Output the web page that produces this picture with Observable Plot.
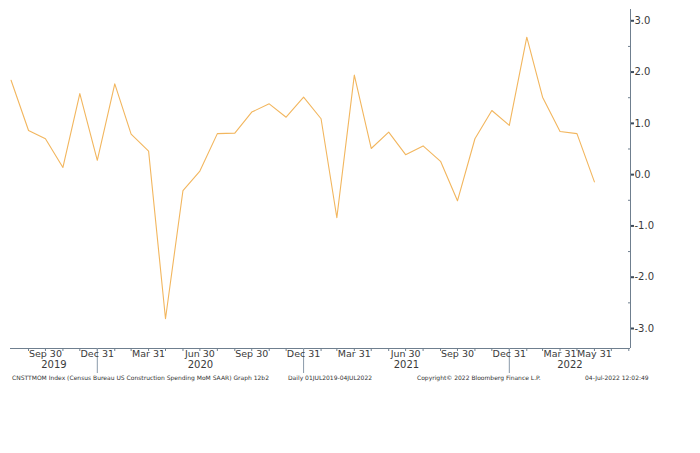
<!DOCTYPE html>
<html><head><meta charset="utf-8">
<script src="https://cdn.jsdelivr.net/npm/d3@7"></script>
<script src="https://cdn.jsdelivr.net/npm/@observablehq/plot@0.6"></script>
<style>
body{margin:0;background:#fff;}
#cap{position:relative;height:78px;font-family:"DejaVu Sans",sans-serif;font-size:6px;line-height:6px;color:#333;}
#cap span{position:absolute;top:0px;white-space:nowrap;}
</style>
</head><body>
<div id="chart"></div>
<div id="cap"></div>
<script>
// ---- data ----
const dates = ["2019-07-31","2019-08-31","2019-09-30","2019-10-31","2019-11-30","2019-12-31",
  "2020-01-31","2020-02-29","2020-03-31","2020-04-30","2020-05-31","2020-06-30",
  "2020-07-31","2020-08-31","2020-09-30","2020-10-31","2020-11-30","2020-12-31",
  "2021-01-31","2021-02-28","2021-03-31","2021-04-30","2021-05-31","2021-06-30",
  "2021-07-31","2021-08-31","2021-09-30","2021-10-31","2021-11-30","2021-12-31",
  "2022-01-31","2022-02-28","2022-03-31","2022-04-30","2022-05-31"];
const values = [1.84,0.86,0.70,0.14,1.58,0.28,1.77,0.79,0.46,-2.81,-0.31,0.07,
  0.80,0.81,1.22,1.38,1.12,1.51,1.09,-0.84,1.94,0.51,0.83,0.39,
  0.56,0.26,-0.51,0.70,1.25,0.96,2.68,1.51,0.84,0.80,-0.14];
const labelDates = ["2019-09-30","2019-12-31","2020-03-31","2020-06-30","2020-09-30","2020-12-31",
  "2021-03-31","2021-06-30","2021-09-30","2021-12-31","2022-03-31","2022-05-31"];
const labelTexts = ["Sep 30","Dec 31","Mar 31","Jun 30","Sep 30","Dec 31",
  "Mar 31","Jun 30","Sep 30","Dec 31","Mar 31","May 31"];
const yearBreaks = ["2019-12-31","2020-12-31","2021-12-31"];
const years = ["2019","2020","2021","2022"];
const yTicks = [-3,-2,-1,0,1,2,3];
const yMinor = [-2.5,-1.5,-0.5,0.5,1.5,2.5];
const xDomain = ["2019-07-30","2022-08-03"];
const yDomain = [-3.39, 3.22];
const captionLeft = "CNSTTMOM Index (Census Bureau US Construction Spending MoM SAAR) Graph 12b2";
const captionRange = "Daily 01JUL2019-04JUL2022";
const captionCopy = "Copyright\u00A9 2022 Bloomberg Finance L.P.";
const captionTime = "04-Jul-2022 12:02:49";

// ---- build ----
const P = s => new Date(s + "T00:00:00Z");
const data = dates.map((d, i) => ({date: P(d), value: values[i]}));
const labelMap = new Map(labelDates.map((d, i) => [P(d).getTime(), labelTexts[i]]));
const xd = xDomain.map(P);
const monthEnds = d3.utcMonth.range(d3.utcMonth.offset(xd[0], 1), xd[1]).map(d => d3.utcDay.offset(d, -1))
  .filter(d => d >= xd[0] && d <= xd[1]);
const bounds = [xd[0], ...yearBreaks.map(P), xd[1]];
const yearData = years.map((y, i) => ({label: y, date: new Date((bounds[i].getTime() + bounds[i + 1].getTime()) / 2)}));

const axisColor = "#6f7f8f";
const textColor = "#3a3a3a";

const chart = Plot.plot({
  width: 700,
  height: 375,
  marginLeft: 10,
  marginRight: 70,
  marginTop: 9,
  marginBottom: 27,
  style: {fontFamily: "DejaVu Sans, sans-serif", background: "#fff"},
  x: {type: "utc", domain: xd, label: null},
  y: {domain: yDomain, label: null},
  marks: [
    Plot.ruleY([yDomain[0]], {stroke: axisColor, strokeWidth: 1}),
    Plot.ruleX([xd[1]], {stroke: axisColor, strokeWidth: 1}),
    // monthly small ticks
    Plot.axisX(monthEnds, {tickSize: 3, text: null, label: null, stroke: axisColor}),
    // year separators
    Plot.axisX(yearBreaks.map(P), {tickSize: 25, text: null, label: null, stroke: "#8a9aaa"}),
    // quarter labels
    Plot.axisX(labelDates.map(P), {tickSize: 0, tickPadding: 2, fontSize: 9.5, fill: textColor, label: null,
      tickFormat: d => labelMap.get(d.getTime())}),
    // year labels
    Plot.text(yearData, {x: "date", frameAnchor: "bottom", dy: 19, text: "label", fontSize: 10, fill: textColor}),
    // y axis
    Plot.axisY(yTicks, {anchor: "right", tickSize: 3, strokeWidth: 2, tickPadding: 1, stroke: "#3d4c5c",
      fontSize: 10, fill: textColor, label: null, tickFormat: d => d.toFixed(1)}),
    Plot.axisY(yMinor, {anchor: "right", tickSize: -3, text: null, label: null, stroke: axisColor}),
    // data line
    Plot.line(data, {x: "date", y: "value", stroke: "#f2b65e", strokeWidth: 1.1})
  ]
});
document.getElementById("chart").appendChild(chart);

const cap = document.getElementById("cap");
[[captionLeft, 12], [captionRange, 288], [captionCopy, 417], [captionTime, 585]].forEach(([t, x]) => {
  const s = document.createElement("span");
  s.textContent = t;
  s.style.left = x + "px";
  cap.appendChild(s);
});
</script>
</body></html>
